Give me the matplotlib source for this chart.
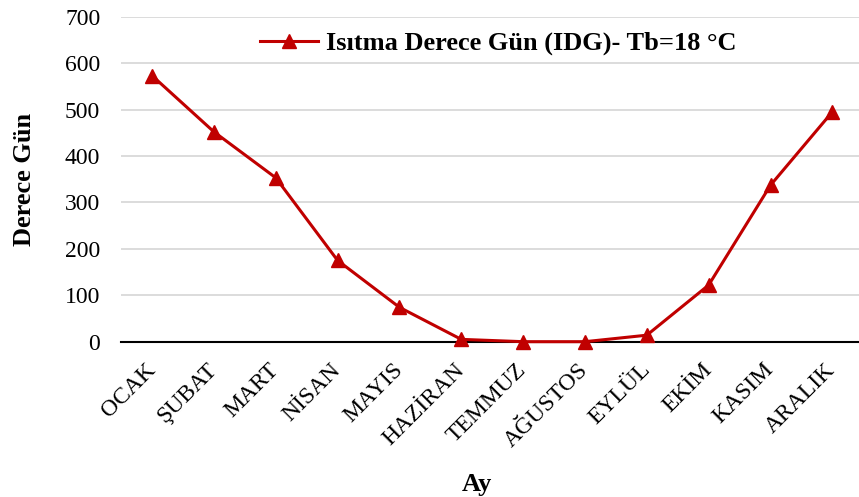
import matplotlib.pyplot as plt

plt.rcParams['font.family'] = ['Liberation Serif', 'DejaVu Serif']

months = ["OCAK", "ŞUBAT", "MART", "NİSAN", "MAYIS", "HAZİRAN",
          "TEMMUZ", "AĞUSTOS", "EYLÜL", "EKİM", "KASIM", "ARALIK"]
idg = [573, 452, 353, 175, 74, 5, 0, 0, 14, 122, 337, 495]
series_label = "Isıtma Derece Gün (IDG)- Tb=18 °C"

fig = plt.figure(figsize=(8.59, 4.97), dpi=100)
ax = fig.add_axes([0.141, 0.3125, 0.864, 0.654])

x = range(len(months))
ax.plot(x, idg, color="#C00000", linewidth=2.2, marker="^", markersize=10,
        label=series_label, clip_on=False, zorder=3)

ax.set_xlim(-0.5, len(months) - 0.5)
ax.set_ylim(0, 700)
ax.set_yticks(range(0, 701, 100))
ax.grid(axis="y", color="#d9d9d9", linewidth=1.3)
ax.set_axisbelow(True)

for s in ["top", "right", "left"]:
    ax.spines[s].set_visible(False)
ax.spines["bottom"].set_color("black")
ax.spines["bottom"].set_linewidth(1.5)
ax.spines["bottom"].set_zorder(2)

ax.tick_params(axis="both", length=0, labelsize=17)
ax.tick_params(axis="y", pad=15)
ax.set_xticks(list(x))
ax.set_xticklabels(months, rotation=45, ha="right", va="center",
                   rotation_mode="anchor")
ax.tick_params(axis="x", pad=18)

ax.set_ylabel("Derece Gün", fontsize=19, fontweight="bold")
ax.yaxis.set_label_coords(-0.115, 0.5)
ax.set_xlabel("Ay", fontsize=19, fontweight="bold")
ax.xaxis.set_label_coords(0.48, -0.405)

ax.legend(loc="center", bbox_to_anchor=(0.58, 0.913), bbox_transform=fig.transFigure,
          frameon=False, prop={"size": 19, "weight": "bold"},
          handlelength=2.2, handletextpad=0.3)

fig.savefig("out.png", dpi=100)
